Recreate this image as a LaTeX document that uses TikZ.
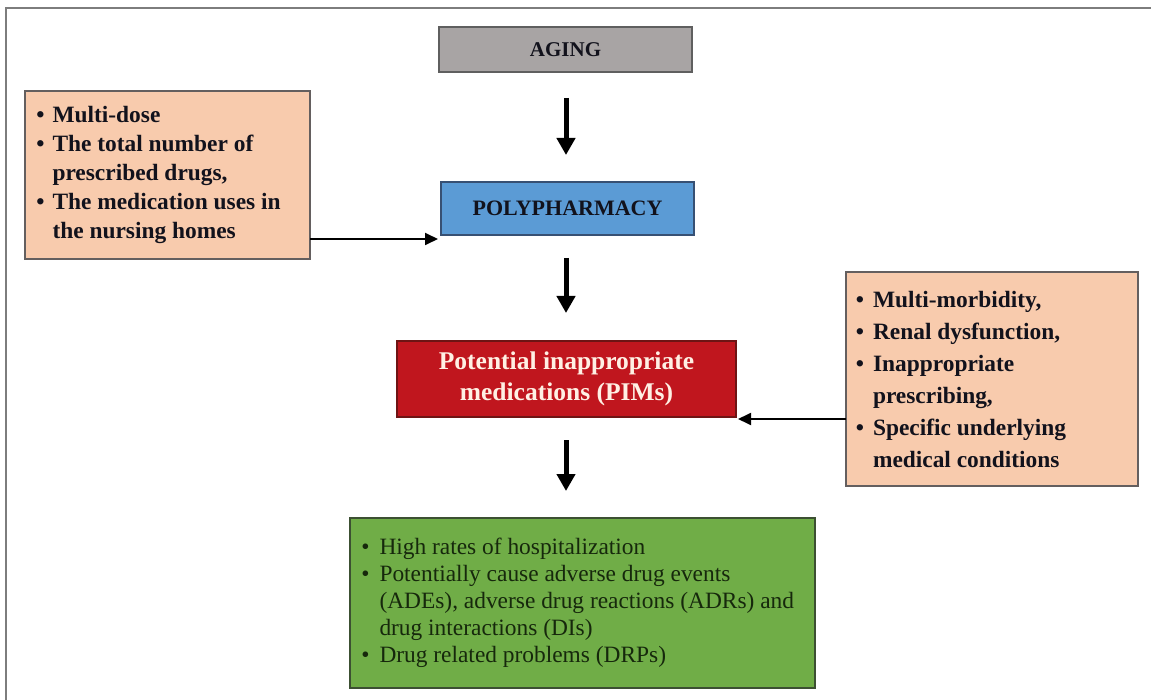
\documentclass[tikz,border=0pt]{standalone}
\usepackage{fontspec}
\setmainfont{Liberation Serif}
\usetikzlibrary{arrows.meta,calc}
\definecolor{agegray}{RGB}{168,164,164}
\definecolor{ageborder}{RGB}{95,95,95}
\definecolor{polyblue}{RGB}{91,155,213}
\definecolor{polyborder}{RGB}{55,80,115}
\definecolor{peach}{RGB}{248,203,173}
\definecolor{peachborder}{RGB}{100,95,95}
\definecolor{pimred}{RGB}{192,22,30}
\definecolor{pimborder}{RGB}{110,20,20}
\definecolor{pimtext}{RGB}{255,240,228}
\definecolor{outgreen}{RGB}{112,173,71}
\definecolor{greenborder}{RGB}{60,80,50}
\definecolor{greentext}{RGB}{22,40,12}
\definecolor{darktext}{RGB}{18,18,28}
\definecolor{framegray}{RGB}{125,125,125}
\newcommand{\blist}[3]{\begin{minipage}{#1}\raggedright\begin{list}{\textbullet}{\setlength{\leftmargin}{#2}\setlength{\labelwidth}{12pt}\setlength{\labelsep}{\dimexpr#2-12pt\relax}\setlength{\itemsep}{0pt}\setlength{\parsep}{0pt}\setlength{\topsep}{0pt}\setlength{\partopsep}{0pt}}#3\end{list}\end{minipage}}
\begin{document}
\begin{tikzpicture}[x=1pt,y=-1pt,
  box/.style={draw, line width=1.5pt, inner sep=0pt, outer sep=0pt, align=center},
  bigarrow/.style={line width=5pt, -{Triangle[width=18pt,length=17pt]}},
  thinarrow/.style={line width=1.8pt, -{Triangle[width=12pt,length=13pt]}}]
\useasboundingbox (0,0) rectangle (1151,700);
\fill[white] (0,0) rectangle (1151,700);
\draw[framegray, line width=2pt] (6,700) -- (6,8) -- (1151,8);

\node[box, fill=agegray, draw=ageborder, minimum width=253pt, minimum height=45pt,
  font=\fontsize{21}{25}\selectfont\bfseries, text=darktext] (aging) at (565.5,49.5) {AGING};
\node[box, fill=polyblue, draw=polyborder, minimum width=253pt, minimum height=53pt,
  font=\fontsize{22}{26}\selectfont\bfseries, text=darktext] (poly) at (567.5,208.5) {POLYPHARMACY};
\node[box, fill=pimred, draw=pimborder, minimum width=339pt, minimum height=76pt,
  font=\fontsize{25.5}{31}\selectfont\bfseries, text=pimtext] (pims) at (566.5,379) {Potential inappropriate\\medications (PIMs)};

\node[box, fill=peach, draw=peachborder, minimum width=285pt, minimum height=168pt,
  font=\fontsize{23.4}{29}\selectfont\bfseries, text=darktext] (left) at (167.5,175)
  {\blist{270pt}{20pt}{\item Multi-dose \item The total number of\\prescribed drugs, \item The medication uses in\\the nursing homes}};

\node[box, fill=peach, draw=peachborder, minimum width=292pt, minimum height=214pt,
  font=\fontsize{23.4}{32}\selectfont\bfseries, text=darktext] (right) at (992,379)
  {\blist{280pt}{21pt}{\item Multi-morbidity, \item Renal dysfunction, \item Inappropriate\\prescribing, \item Specific underlying\\medical conditions}};

\node[box, fill=outgreen, draw=greenborder, minimum width=465pt, minimum height=170pt,
  font=\fontsize{23.4}{27}\selectfont, text=greentext] (green) at (582.5,603)
  {\blist{450pt}{22pt}{\item High rates of hospitalization \item Potentially cause adverse drug events\\(ADEs), adverse drug reactions (ADRs) and\\drug interactions (DIs) \item Drug related problems (DRPs)}};

\draw[bigarrow, shorten <=26pt, shorten >=27pt] (aging.south -| 566,0) -- (poly.north -| 566,0);
\draw[bigarrow, shorten <=23pt, shorten >=28pt] (poly.south -| 566,0) -- (pims.north -| 566,0);
\draw[bigarrow, shorten <=23pt, shorten >=27pt] (pims.south -| 566,0) -- (green.north -| 566,0);

\coordinate (polyin) at ($(poly.south west)+(-3,4)$);
\coordinate (pimsin) at ($(pims.south east)+(2,2)$);
\draw[thinarrow] (left.east |- polyin) -- (polyin);
\draw[thinarrow] (right.west |- pimsin) -- (pimsin);
\end{tikzpicture}
\end{document}
